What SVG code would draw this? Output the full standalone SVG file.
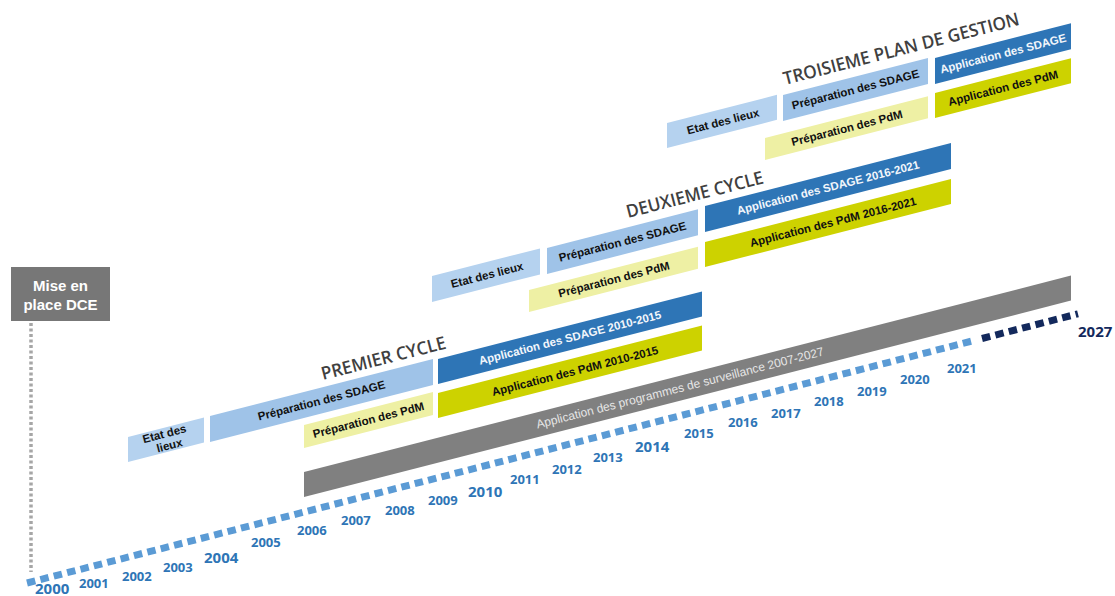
<svg xmlns="http://www.w3.org/2000/svg" width="1115" height="596" viewBox="0 0 1115 596">
<style>
.etat{fill:#b5d2ef}
.psdage{fill:#9fc3e8}
.ppdm{fill:#eef0a4}
.asdage{fill:#2e75b6}
.apdm{fill:#cdd200}
.gray{fill:#808080}
.lbl{font-family:"Liberation Sans",Arial,sans-serif;font-weight:bold;font-size:11.5px;text-anchor:middle;fill:#111}
.lblw{font-family:"Liberation Sans",Arial,sans-serif;font-weight:bold;font-size:11.5px;text-anchor:middle;fill:#f2f6fb}
.lblg{font-family:"Liberation Sans",Arial,sans-serif;font-size:12px;text-anchor:middle;fill:#e6e6e6}
.title{font-family:"Open Sans","Liberation Sans",sans-serif;font-weight:600;font-size:18px;fill:#404040}
.yr{font-family:"Open Sans","Liberation Sans",sans-serif;font-weight:bold;font-size:13px;fill:#2e75b6}
.yrl{font-family:"Open Sans","Liberation Sans",sans-serif;font-weight:bold;font-size:15px;fill:#2e75b6}
</style>
<rect width="1115" height="596" fill="#ffffff"/>

<g id="connectors">
  <line x1="31" y1="323" x2="31" y2="572" stroke="#a6a6a6" stroke-width="3.5" stroke-dasharray="3,2.5"/>
  <line x1="27" y1="583" x2="974" y2="340.5" stroke="#5b9bd5" stroke-width="7" stroke-dasharray="8.5,5.3"/>
  <line x1="982" y1="338.5" x2="1078" y2="313.8" stroke="#13295c" stroke-width="7" stroke-dasharray="8.5,5.3"/>
</g>

<g id="mise-en-place">
  <rect x="11" y="267" width="99" height="54" fill="#777777"/>
  <text x="60.5" y="291" text-anchor="middle" font-family="Liberation Sans, Arial, sans-serif" font-weight="bold" font-size="15" fill="#ffffff">Mise en</text>
  <text x="60.5" y="310" text-anchor="middle" font-family="Liberation Sans, Arial, sans-serif" font-weight="bold" font-size="15" fill="#ffffff">place DCE</text>
</g>

<g id="surveillance">
  <polygon class="gray" points="304,472 1071,275.6 1071,300.6 304,497"/>
  <text class="lblg" transform="rotate(-14.36 680 388)" x="680" y="392">Application des programmes de surveillance 2007-2027</text>
</g>

<g id="premier-cycle">
  <text class="title" transform="rotate(-14.36 323 380)" x="323" y="380" textLength="128" lengthAdjust="spacingAndGlyphs">PREMIER CYCLE</text>
  <g id="p-etat">
    <polygon class="etat" points="128,437 204,417.5 204,442.5 128,462"/>
    <text class="lbl" transform="rotate(-14.36 166 440)" x="166" y="437.5">Etat des</text>
    <text class="lbl" transform="rotate(-14.36 166 440)" x="168" y="450">lieux</text>
  </g>
  <g id="p-prep-sdage">
    <polygon class="psdage" points="210,416 433,358.9 433,384.9 210,442"/>
    <text class="lbl" transform="rotate(-14.36 321.5 400.5)" x="321.5" y="404.5">Préparation des SDAGE</text>
  </g>
  <g id="p-prep-pdm">
    <polygon class="ppdm" points="304,425 433,392 433,415 304,448"/>
    <text class="lbl" transform="rotate(-14.36 368.5 420)" x="368.5" y="424">Préparation des PdM</text>
  </g>
  <g id="p-app-sdage">
    <polygon class="asdage" points="438,359 702,291.4 702,316.4 438,384"/>
    <text class="lblw" transform="rotate(-14.36 570 337.7)" x="570" y="341.7">Application des SDAGE 2010-2015</text>
  </g>
  <g id="p-app-pdm">
    <polygon class="apdm" points="438,393 702,325.4 702,350.4 438,418"/>
    <text class="lbl" transform="rotate(-14.36 575 371)" x="575" y="375">Application des PdM 2010-2015</text>
  </g>
</g>

<g id="deuxieme-cycle">
  <text class="title" transform="rotate(-14.36 628 218)" x="628" y="218" textLength="141" lengthAdjust="spacingAndGlyphs">DEUXIEME CYCLE</text>
  <g id="d-etat">
    <polygon class="etat" points="432,276 540,248.4 540,274.4 432,302"/>
    <text class="lbl" transform="rotate(-14.36 487 275)" x="487" y="279">Etat des lieux</text>
  </g>
  <g id="d-prep-sdage">
    <polygon class="psdage" points="547,248 698,209.3 698,235.3 547,274"/>
    <text class="lbl" transform="rotate(-14.36 622.5 241.7)" x="622.5" y="245.7">Préparation des SDAGE</text>
  </g>
  <g id="d-prep-pdm">
    <polygon class="ppdm" points="529,290 698,246.7 698,268.7 529,312"/>
    <text class="lbl" transform="rotate(-14.36 614 279.4)" x="614" y="283.4">Préparation des PdM</text>
  </g>
  <g id="d-app-sdage">
    <polygon class="asdage" points="705,206 951,143 951,169 705,232"/>
    <text class="lblw" transform="rotate(-14.36 828 187.5)" x="828" y="191.5">Application des SDAGE 2016-2021</text>
  </g>
  <g id="d-app-pdm">
    <polygon class="apdm" points="705,242 951,179 951,204 705,267"/>
    <text class="lbl" transform="rotate(-14.36 833 222)" x="833" y="226">Application des PdM 2016-2021</text>
  </g>
</g>

<g id="troisieme-plan">
  <text class="title" transform="rotate(-14.36 785 85)" x="785" y="85" textLength="243" lengthAdjust="spacingAndGlyphs">TROISIEME PLAN DE GESTION</text>
  <g id="t-etat">
    <polygon class="etat" points="667,123 777,94.8 777,119.8 667,148"/>
    <text class="lbl" transform="rotate(-14.36 723 121.4)" x="723" y="125.4">Etat des lieux</text>
  </g>
  <g id="t-prep-sdage">
    <polygon class="psdage" points="783,95 928,57.9 928,83.9 783,121"/>
    <text class="lbl" transform="rotate(-14.36 855.5 89.4)" x="855.5" y="93.4">Préparation des SDAGE</text>
  </g>
  <g id="t-prep-pdm">
    <polygon class="ppdm" points="765,138 928,96.3 928,118.3 765,160"/>
    <text class="lbl" transform="rotate(-14.36 847 128)" x="847" y="132">Préparation des PdM</text>
  </g>
  <g id="t-app-sdage">
    <polygon class="asdage" points="935,58 1071,23.2 1071,49.2 935,84"/>
    <text class="lblw" transform="rotate(-14.36 1003 53.6)" x="1003" y="57.6">Application des SDAGE</text>
  </g>
  <g id="t-app-pdm">
    <polygon class="apdm" points="935,93 1071,58.2 1071,83.2 935,118"/>
    <text class="lbl" transform="rotate(-14.36 1003 88)" x="1003" y="92">Application des PdM</text>
  </g>
</g>

<g id="years">
  <text class="yrl" x="35" y="594">2000</text>
  <text class="yr" x="79" y="588">2001</text>
  <text class="yr" x="122" y="581">2002</text>
  <text class="yr" x="163" y="572">2003</text>
  <text class="yrl" x="204" y="563">2004</text>
  <text class="yr" x="251" y="547">2005</text>
  <text class="yr" x="297" y="535">2006</text>
  <text class="yr" x="341" y="525">2007</text>
  <text class="yr" x="385" y="515">2008</text>
  <text class="yr" x="428" y="505">2009</text>
  <text class="yrl" x="468" y="497">2010</text>
  <text class="yr" x="510" y="484">2011</text>
  <text class="yr" x="552" y="474">2012</text>
  <text class="yr" x="593" y="462">2013</text>
  <text class="yrl" x="635" y="452">2014</text>
  <text class="yr" x="684" y="438">2015</text>
  <text class="yr" x="728" y="427">2016</text>
  <text class="yr" x="771" y="418">2017</text>
  <text class="yr" x="814" y="406">2018</text>
  <text class="yr" x="857" y="396">2019</text>
  <text class="yr" x="900" y="384">2020</text>
  <text class="yr" x="947" y="373">2021</text>
  <text class="yrl" x="1078" y="337" style="fill:#13295c">2027</text>
</g>
</svg>
